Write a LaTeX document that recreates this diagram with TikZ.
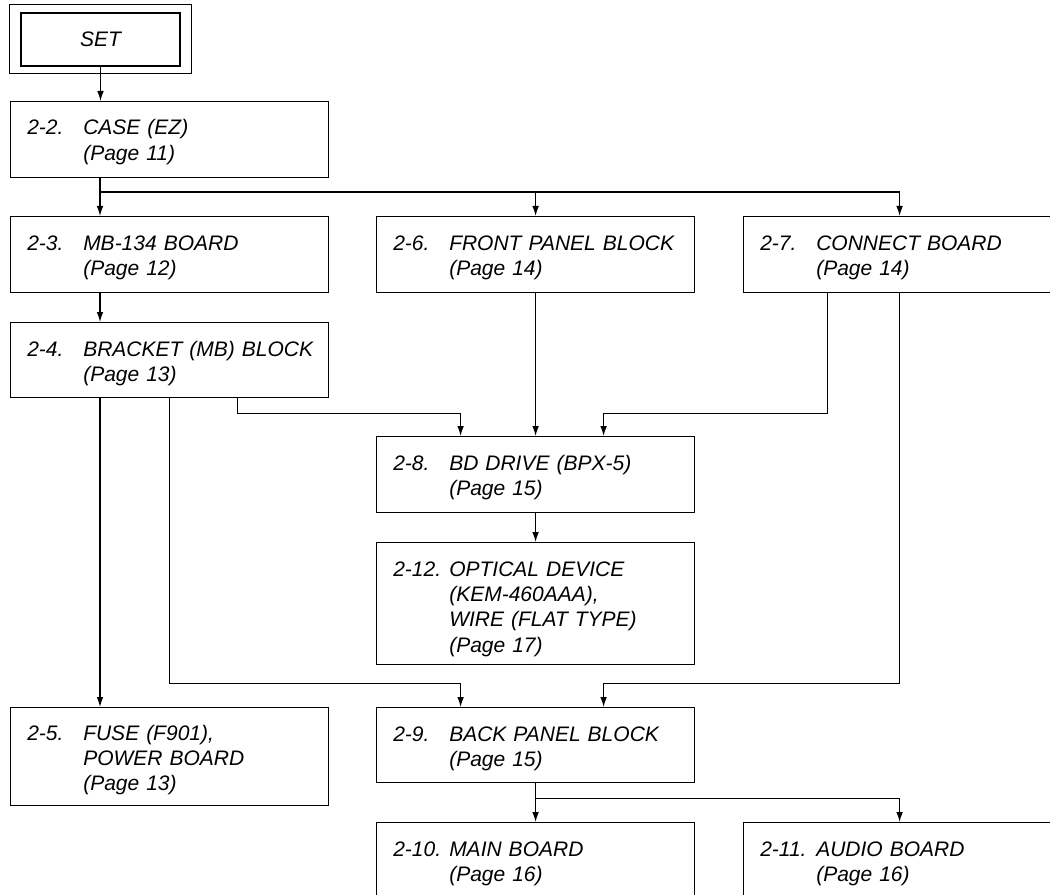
\documentclass[tikz,border=0pt]{standalone}
\usepackage{fontspec}
\setmainfont{Liberation Sans}
\usetikzlibrary{arrows.meta}
\newcommand{\tagno}[1]{\makebox[42pt][l]{#1}}
\tikzset{
  box/.style={draw, anchor=north west, inner sep=0pt, line width=0.9pt,
    minimum width=318*0.75pt, minimum height=76*0.75pt},
  lbl/.style={anchor=base west, inner sep=0pt, align=left, text width=240pt,
    font=\fontsize{15.75}{19}\selectfont\itshape},
  arr/.style={line width=0.9pt, -{Latex[length=7.5pt,width=5pt]}}
}
\begin{document}
\begin{tikzpicture}[x=0.75pt,y=-0.75pt]
  \path[use as bounding box, clip] (0,0) rectangle (1050,895);
  % top
  \node[draw, line width=0.9pt, minimum width=159*0.75pt, minimum height=53*0.75pt,
    font=\fontsize{15.75}{19}\selectfont\itshape] (set) at (100.5,39.5) {SET};
  \draw[line width=0.9pt] ([shift={(-11,-8)}]set.north west) rectangle ([shift={(11,7)}]set.south east);
  \coordinate (split) at (100,192);
  % left column
  \node[box] (case) at (10,101) {};
  \node[lbl] (case-t) at ([shift={(17,34)}]case.north west) {\tagno{2-2.}CASE (EZ)\\\tagno{}(Page 11)};
  \node[box] (mb134) at (10,216) {};
  \node[lbl] (mb134-t) at ([shift={(17,34)}]mb134.north west) {\tagno{2-3.}MB-134 BOARD\\\tagno{}(Page 12)};
  \node[box, minimum height=75*0.75pt] (bracket) at (10,322) {};
  \node[lbl] (bracket-t) at ([shift={(17,34)}]bracket.north west) {\tagno{2-4.}BRACKET (MB) BLOCK\\\tagno{}(Page 13)};
  \node[box, minimum height=98*0.75pt] (fuse) at (10,707) {};
  \node[lbl] (fuse-t) at ([shift={(17,33)}]fuse.north west) {\tagno{2-5.}FUSE (F901),\\\tagno{}POWER BOARD\\\tagno{}(Page 13)};
  % middle column
  \node[box] (front) at (376,216) {};
  \node[lbl] (front-t) at ([shift={(17,34)}]front.north west) {\tagno{2-6.}FRONT PANEL BLOCK\\\tagno{}(Page 14)};
  \node[box] (bddrive) at (376,436) {};
  \node[lbl] (bddrive-t) at ([shift={(17,34)}]bddrive.north west) {\tagno{2-8.}BD DRIVE (BPX-5)\\\tagno{}(Page 15)};
  \node[box, minimum height=122*0.75pt] (optical) at (376,542) {};
  \node[lbl] (optical-t) at ([shift={(17,34)}]optical.north west) {\tagno{2-12.}OPTICAL DEVICE\\\tagno{}(KEM-460AAA),\\\tagno{}WIRE (FLAT TYPE)\\\tagno{}(Page 17)};
  \node[box, minimum height=75*0.75pt] (back) at (376,707) {};
  \node[lbl] (back-t) at ([shift={(17,34)}]back.north west) {\tagno{2-9.}BACK PANEL BLOCK\\\tagno{}(Page 15)};
  \node[box] (main) at (376,822) {};
  \node[lbl] (main-t) at ([shift={(17,34)}]main.north west) {\tagno{2-10.}MAIN BOARD\\\tagno{}(Page 16)};
  % right column
  \node[box, minimum width=312*0.75pt] (connect) at (743,216) {};
  \node[lbl] (connect-t) at ([shift={(17,34)}]connect.north west) {\tagno{2-7.}CONNECT BOARD\\\tagno{}(Page 14)};
  \node[box, minimum width=312*0.75pt] (audio) at (743,822) {};
  \node[lbl] (audio-t) at ([shift={(17,34)}]audio.north west) {\tagno{2-11.}AUDIO BOARD\\\tagno{}(Page 16)};
  % connectors
  \draw[arr] (set.south) -- (set.south |- case.north);
  \draw[arr] (case.south -| split) -- (mb134.north -| split);
  \draw[arr] (split) -| (front.north);
  \draw[arr] (split) -| (connect.north);
  \draw[arr] (mb134.south -| split) -- (bracket.north -| split);
  \draw[arr] (bracket.south -| split) -- (fuse.north -| split);
  \draw[arr] ([shift={(68,0)}]bracket.south) -- ++(0,15) -| ([shift={(-75,0)}]bddrive.north);
  \draw[arr] (bracket.south) -- ++(0,285) -| ([shift={(-75,0)}]back.north);
  \draw[arr] (front.south) -- (bddrive.north);
  \draw[arr] ([shift={(-72,0)}]connect.south) -- ++(0,120) -| ([shift={(68,0)}]bddrive.north);
  \draw[arr] (connect.south) -- ++(0,390) -| ([shift={(68,0)}]back.north);
  \draw[arr] (bddrive.south) -- (optical.north);
  \draw[arr] (back.south) -- (main.north);
  \draw[arr] (back.south) -- ++(0,15) -| (audio.north);
\end{tikzpicture}
\end{document}
